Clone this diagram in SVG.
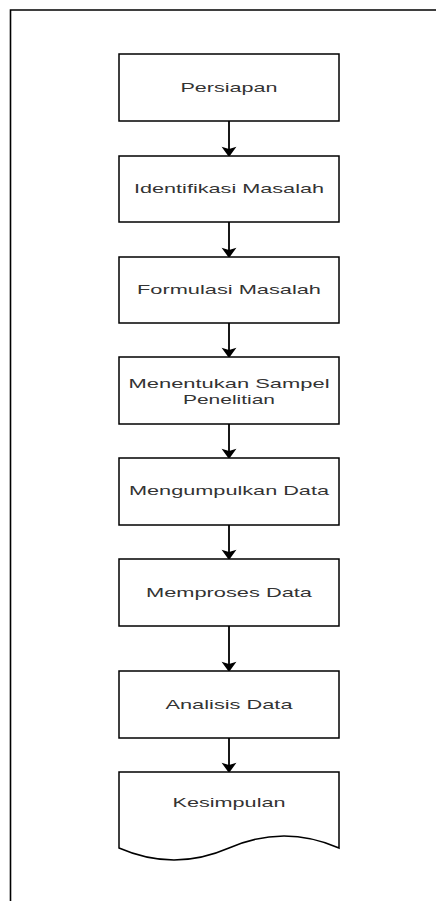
<svg xmlns="http://www.w3.org/2000/svg" width="436" height="901" viewBox="0 0 436 901">
  <style>
    .box { fill: #ffffff; stroke: #000000; stroke-width: 1.5; }
    .lbl { font-family: "Liberation Sans", Arial, sans-serif; font-size: 13.5px; fill: #333333; text-anchor: middle; }
    .edge { stroke: #000000; stroke-width: 1.8; fill: none; marker-end: url(#arr); }
    .frame { stroke: #000000; stroke-width: 1.6; fill: none; }
  </style>
  <defs>
    <marker id="arr" markerUnits="userSpaceOnUse" markerWidth="12" markerHeight="16" viewBox="0 -7 10 14" refX="2" refY="0" orient="auto">
      <path d="M0,-6.5 L9,0 L0,6.5 L2,0 Z" fill="#000000"/>
    </marker>
  </defs>
  <rect width="436" height="901" fill="#ffffff"/>
  <g id="frame">
    <path class="frame" d="M10.5,901 V10 H436"/>
  </g>
  <g id="connectors">
    <line class="edge" x1="229" y1="121" x2="229" y2="149"/>
    <line class="edge" x1="229" y1="222" x2="229" y2="250"/>
    <line class="edge" x1="229" y1="323" x2="229" y2="350"/>
    <line class="edge" x1="229" y1="424" x2="229" y2="451"/>
    <line class="edge" x1="229" y1="525" x2="229" y2="552"/>
    <line class="edge" x1="229" y1="626" x2="229" y2="664"/>
    <line class="edge" x1="229" y1="738" x2="229" y2="765"/>
  </g>
  <g id="persiapan">
    <rect class="box" x="119" y="54" width="220" height="67"/>
    <text class="lbl" x="229" y="92" textLength="97" lengthAdjust="spacingAndGlyphs">Persiapan</text>
  </g>
  <g id="identifikasi">
    <rect class="box" x="119" y="156" width="220" height="66"/>
    <text class="lbl" x="229" y="193" textLength="190" lengthAdjust="spacingAndGlyphs">Identifikasi Masalah</text>
  </g>
  <g id="formulasi">
    <rect class="box" x="119" y="257" width="220" height="66"/>
    <text class="lbl" x="229" y="294" textLength="184" lengthAdjust="spacingAndGlyphs">Formulasi Masalah</text>
  </g>
  <g id="sampel">
    <rect class="box" x="119" y="357" width="220" height="67"/>
    <text class="lbl" x="229" y="388" textLength="201" lengthAdjust="spacingAndGlyphs">Menentukan Sampel</text>
    <text class="lbl" x="229" y="403.5" textLength="92" lengthAdjust="spacingAndGlyphs">Penelitian</text>
  </g>
  <g id="mengumpulkan">
    <rect class="box" x="119" y="458" width="220" height="67"/>
    <text class="lbl" x="229" y="495" textLength="200" lengthAdjust="spacingAndGlyphs">Mengumpulkan Data</text>
  </g>
  <g id="memproses">
    <rect class="box" x="119" y="559" width="220" height="67"/>
    <text class="lbl" x="229" y="596.5" textLength="166" lengthAdjust="spacingAndGlyphs">Memproses Data</text>
  </g>
  <g id="analisis">
    <rect class="box" x="119" y="671" width="220" height="67"/>
    <text class="lbl" x="229" y="709" textLength="127" lengthAdjust="spacingAndGlyphs">Analisis Data</text>
  </g>
  <g id="kesimpulan">
    <path class="box" d="M119,772 H339 V848 Q284,824 229,848 Q174,872 119,848 Z"/>
    <text class="lbl" x="229" y="807" textLength="113" lengthAdjust="spacingAndGlyphs">Kesimpulan</text>
  </g>
</svg>
